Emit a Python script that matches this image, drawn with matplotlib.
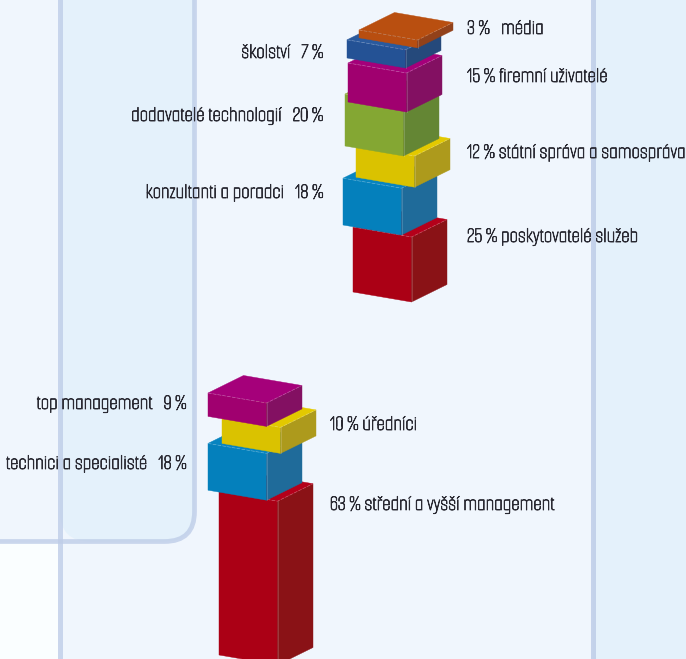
import matplotlib
matplotlib.use("Agg")
import matplotlib.pyplot as plt
import matplotlib.patheffects as pe
from matplotlib.patches import Polygon, Rectangle, FancyBboxPatch

# ---------- data ----------
upper_categories = ["poskytovatelé služeb", "konzultanti a poradci", "státní správa a samospráva",
                    "dodavatelé technologií", "firemní uživatelé", "školství", "média"]
upper_values = [25, 18, 12, 20, 15, 7, 3]
lower_categories = ["střední a vyšší management", "technici a specialisté", "úředníci", "top management"]
lower_values = [63, 18, 10, 9]

# ---------- styles / layout ----------
PX_PER_PCT = 2.6
FRONT = (58.5, 10.0)
DEPTH = (35.5, -17.5)
PALETTE = {
    "red": ("#AB0015", "#8A1216", "#B4001A"),
    "blue": ("#0480BC", "#1F6B9A", "#0784C0"),
    "yellow": ("#DAC200", "#AD9A1C", "#E3C900"),
    "green": ("#84A733", "#648634", "#8AAE35"),
    "purple": ("#A0006F", "#831062", "#A5007A"),
    "navy": ("#245295", "#25497B", "#2A5A9E"),
    "orange": ("#B84E10", "#92411A", "#B94F10"),
}
upper_colors = ["red", "blue", "yellow", "green", "purple", "navy", "orange"]
lower_colors = ["red", "blue", "yellow", "purple"]
upper_base = (353, 292)
lower_base = (219, 655)
upper_jog_x = [0, -10, 3, -8, -5, -6, 6]
upper_jog_y = [0, -2, -3, -3, 5, 0, -2]
lower_jog_x = [0, -11, 3, -11]
lower_jog_y = [0, -1, -1, -2]

FONT = ["Smooch Sans", "DejaVu Sans"]
TEXT_COLOR = "#2A2A33"
LINE = "#BECDE8"

fig = plt.figure(figsize=(6.86, 6.59), dpi=100)
ax = fig.add_axes([0, 0, 1, 1])
ax.set_xlim(0, 686)
ax.set_ylim(659, 0)
ax.axis("off")

# ---------- background ----------
ax.add_patch(Rectangle((0, 0), 686, 659, fc="#F0F6FD", ec="none", zorder=0))
ax.add_patch(Rectangle((0, 541.5), 60, 118, fc="#FAFEFF", ec="none", zorder=0.1))
ax.add_patch(Rectangle((593, 0), 93, 659, fc="#E4F1FB", ec="none", zorder=0.1))
ax.add_patch(FancyBboxPatch((60, -60), 134.5, 601.5, boxstyle="round,pad=0,rounding_size=30",
                            fc="#E4F1FB", ec="none", zorder=0.1))
ax.add_patch(FancyBboxPatch((-60, -60), 254.5, 601.5, boxstyle="round,pad=0,rounding_size=30",
                            fc="none", ec=LINE, lw=3.4, alpha=0.8, zorder=0.3))
ax.add_patch(Rectangle((57.5, 0), 5.5, 659, fc=LINE, ec="none", alpha=0.8, zorder=0.3))
ax.add_patch(Rectangle((590.5, 0), 5.5, 659, fc=LINE, ec="none", alpha=0.85, zorder=0.3))


def draw_box(x, y, value, colors, z):
    """x, y: bottom-left front corner in pixels, height from the value."""
    h = value * PX_PER_PCT
    fx, fy = FRONT
    dx, dy = DEPTH
    front_c, side_c, top_c = PALETTE[colors]
    lb, fb, rb = (x, y), (x + fx, y + fy), (x + fx + dx, y + fy + dy)
    lt, ft, rt = (x, y - h), (x + fx, y + fy - h), (x + fx + dx, y + fy + dy - h)
    bt = (x + dx, y + dy - h)
    ax.add_patch(Polygon([lb, fb, ft, lt], fc=front_c, ec=front_c, lw=0.3, zorder=z))
    ax.add_patch(Polygon([fb, rb, rt, ft], fc=side_c, ec=side_c, lw=0.3, zorder=z))
    ax.add_patch(Polygon([lt, ft, rt, bt], fc=top_c, ec=top_c, lw=0.3, zorder=z))
    ax.plot(*zip(lt, ft, rt), color="white", lw=0.5, alpha=0.3, ls=(0, (5, 2)), zorder=z + 0.1)
    ax.plot(*zip(ft, fb), color="white", lw=0.6, alpha=0.2, zorder=z + 0.1)


def draw_stack(values, colors, base, jog_x, jog_y, z0):
    cum = 0
    for i, (v, c) in enumerate(zip(values, colors)):
        draw_box(base[0] + jog_x[i], base[1] - cum * PX_PER_PCT + jog_y[i], v, c, z0 + i)
        cum += v


draw_stack(upper_values, upper_colors, upper_base, upper_jog_x, upper_jog_y, 2)
draw_stack(lower_values, lower_colors, lower_base, lower_jog_x, lower_jog_y, 2)

# ---------- labels ----------
FS = 15.6
def label(x, y, s, ha):
    t = ax.text(x, y + 1, s, ha=ha, va="center", fontsize=FS, color=TEXT_COLOR,
                family=FONT, zorder=20)
    t.set_path_effects([pe.withStroke(linewidth=0.6, foreground=TEXT_COLOR)])

label(467, 28, f"{upper_values[6]} %   {upper_categories[6]}", "left")
label(467, 76, f"{upper_values[4]} % {upper_categories[4]}", "left")
label(467, 152, f"{upper_values[2]} % {upper_categories[2]}", "left")
label(467, 236, f"{upper_values[0]} % {upper_categories[0]}", "left")
label(323, 52, f"{upper_categories[5]}   {upper_values[5]} %", "right")
label(323, 115, f"{upper_categories[3]}   {upper_values[3]} %", "right")
label(323, 192, f"{upper_categories[1]}   {upper_values[1]} %", "right")
label(186, 403, f"{lower_categories[3]}   {lower_values[3]} %", "right")
label(186, 463, f"{lower_categories[1]}   {lower_values[1]} %", "right")
label(330, 424, f"{lower_values[2]} % {lower_categories[2]}", "left")
label(330, 504, f"{lower_values[0]} % {lower_categories[0]}", "left")

fig.savefig("out.png", dpi=100)
